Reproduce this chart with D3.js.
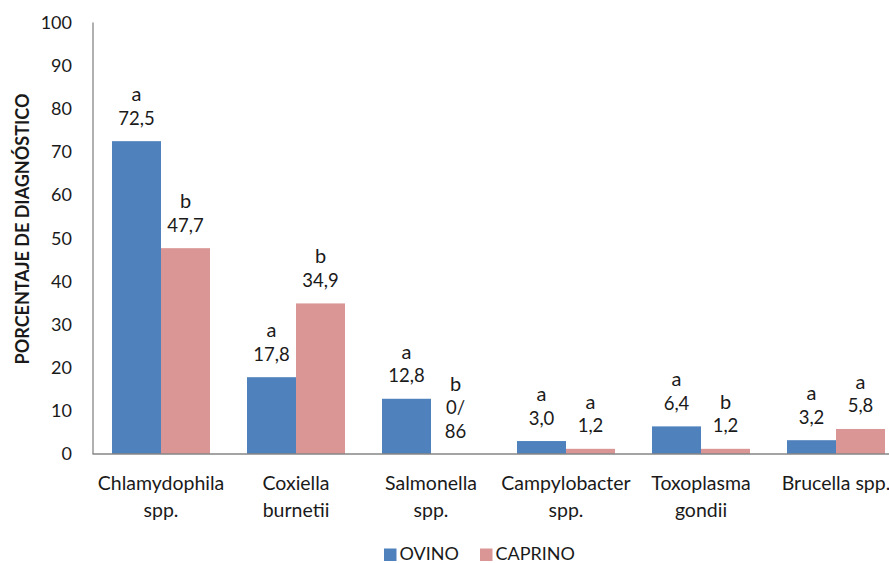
<!DOCTYPE html>
<html>
<head>
<meta charset="utf-8">
<script src="https://cdn.jsdelivr.net/npm/d3@7"></script>
<style>
  html, body { margin: 0; padding: 0; background: #fff; }
  svg { display: block; }
  text { font-family: Lato, "Open Sans", sans-serif; fill: #1a1a1a; }
</style>
</head>
<body>
<svg id="chart" width="889" height="563"></svg>
<script>
// ---- data ----
const categories = [
  ["Chlamydophila", "spp."],
  ["Coxiella", "burnetii"],
  ["Salmonella", "spp."],
  ["Campylobacter", "spp."],
  ["Toxoplasma", "gondii"],
  ["Brucella spp."]
];
const seriesNames = ["OVINO", "CAPRINO"];
const ovino = [72.5, 17.8, 12.8, 3.0, 6.4, 3.2];
const caprino = [47.7, 34.9, 0, 1.2, 1.2, 5.8];
const ovinoLabels = ["72,5", "17,8", "12,8", "3,0", "6,4", "3,2"];
const caprinoLabels = ["47,7", "34,9", "0/86", "1,2", "1,2", "5,8"];
const ovinoLetters = ["a", "a", "a", "a", "a", "a"];
const caprinoLetters = ["b", "b", "b", "a", "b", "a"];
const yTicks = [0, 10, 20, 30, 40, 50, 60, 70, 80, 90, 100];
const colors = ["#4F81BD", "#D99694"];

// ---- layout ----
const svg = d3.select("#chart");
const plotLeft = 93.5, plotRight = 903.5, plotTop = 22.5, plotBottom = 454;

const catKeys = categories.map((c, i) => i);
const x0 = d3.scaleBand().domain(catKeys).range([plotLeft, plotRight])
  .paddingInner(0.274).paddingOuter(0.137);
const x1 = d3.scaleBand().domain([0, 1]).range([0, x0.bandwidth()]);
const y = d3.scaleLinear().domain([0, 100]).range([plotBottom, plotTop]);

// y axis line
svg.append("line")
  .attr("x1", plotLeft - 0.5).attr("x2", plotLeft - 0.5)
  .attr("y1", y(100)).attr("y2", plotBottom)
  .attr("stroke", "#868686").attr("stroke-width", 1.3);

// y tick labels
svg.append("g").selectAll("text").data(yTicks).join("text")
  .attr("x", 72).attr("y", d => y(d))
  .attr("dy", "0.35em")
  .attr("text-anchor", "end")
  .style("font-size", "18px")
  .text(d => d);

// y title
svg.append("text")
  .attr("transform", `translate(29,229) rotate(-90)`)
  .attr("text-anchor", "middle")
  .style("font-size", "18px")
  .style("font-weight", "bold")
  .text("PORCENTAJE DE DIAGNÓSTICO");

// bars
const series = [ovino, caprino];
const labels = [ovinoLabels, caprinoLabels];
const letters = [ovinoLetters, caprinoLetters];

series.forEach((vals, s) => {
  svg.append("g").selectAll("rect").data(vals).join("rect")
    .attr("x", (d, i) => x0(i) + x1(s))
    .attr("width", x1.bandwidth())
    .attr("y", d => y(d))
    .attr("height", d => plotBottom - y(d))
    .attr("fill", colors[s]);
});

// x baseline
svg.append("line")
  .attr("x1", plotLeft - 1).attr("x2", 889)
  .attr("y1", plotBottom).attr("y2", plotBottom)
  .attr("stroke", "#868686").attr("stroke-width", 1.3);

// data labels
series.forEach((vals, s) => {
  vals.forEach((v, i) => {
    const cx = x0(i) + x1(s) + x1.bandwidth() / 2;
    const lbl = labels[s][i];
    const lines = lbl.includes("/") ? [lbl.split("/")[0] + "/", lbl.split("/")[1]] : [lbl];
    const allLines = [letters[s][i]].concat(lines);
    const baseY = y(v) - 16.5;
    const lh = 23.5;
    const n = allLines.length;
    allLines.forEach((t, k) => {
      svg.append("text")
        .attr("x", cx)
        .attr("y", baseY - (n - 1 - k) * lh)
        .attr("text-anchor", "middle")
        .style("font-size", k === 0 ? "20px" : "18.5px")
        .text(t);
    });
  });
});

// category labels
svg.append("g").selectAll("text").data(categories).join("text")
  .attr("x", (d, i) => x0(i) + x0.bandwidth() / 2)
  .attr("y", 490)
  .attr("text-anchor", "middle")
  .style("font-size", "19.5px")
  .each(function(d) {
    const cx = d3.select(this).attr("x");
    d3.select(this).selectAll("tspan").data(d).join("tspan")
      .attr("x", cx)
      .attr("dy", (t, k) => k === 0 ? 0 : 27)
      .text(t => t);
  });

// legend
const legendX = [384, 480];
seriesNames.forEach((name, s) => {
  svg.append("rect")
    .attr("x", legendX[s]).attr("y", 548.5)
    .attr("width", 12.5).attr("height", 12.5)
    .attr("fill", colors[s]);
  svg.append("text")
    .attr("x", legendX[s] + 15.5).attr("y", 559.5)
    .style("font-size", "18px")
    .text(name);
});
</script>
</body>
</html>
